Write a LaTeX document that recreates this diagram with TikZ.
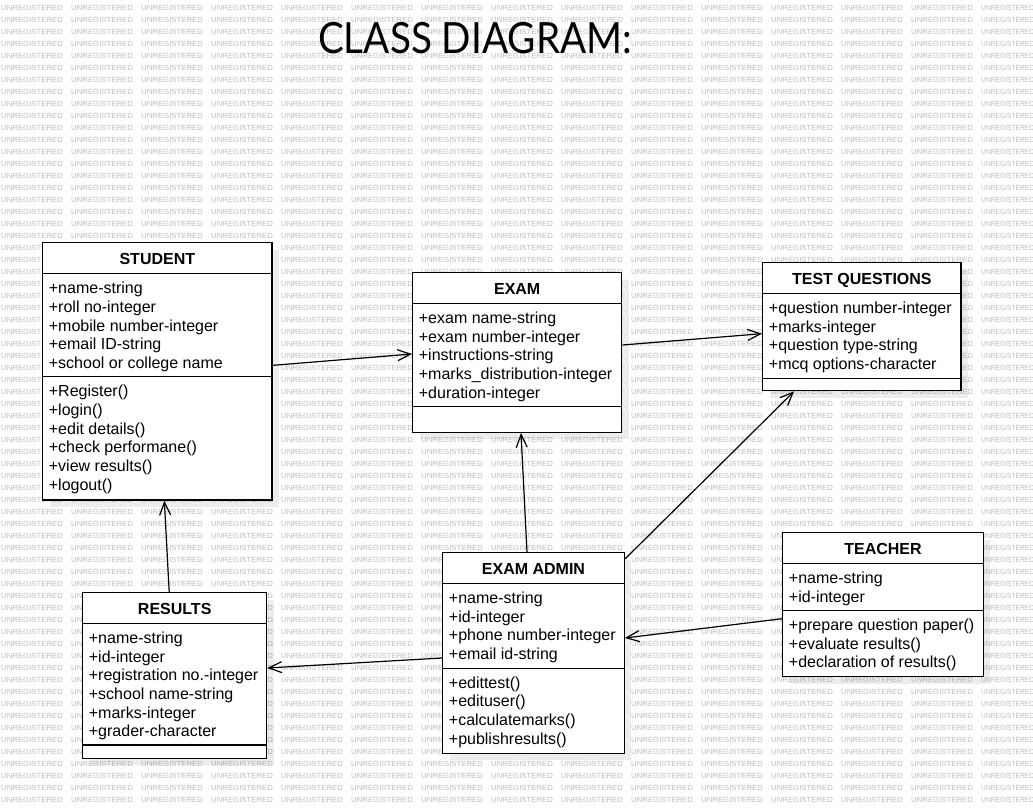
\documentclass[tikz,border=0pt]{standalone}
\usepackage{fontspec}
\setmainfont{Liberation Sans}
\newfontfamily\titlefont{Lato}
\usetikzlibrary{arrows.meta}
\tikzset{
  classbox/.style={draw=black, line width=1.3pt, fill=white, inner sep=0pt, outer sep=0.65pt},
  shadowbox/.style={fill=black, fill opacity=0.07},
  cname/.style={font=\fontsize{16}{19}\selectfont\bfseries, inner sep=0pt, anchor=base},
  member/.style={font=\fontsize{16}{19}\selectfont, inner sep=0pt, anchor=base west},
  divider/.style={line width=1.3pt},
  assoc/.style={line width=1.2pt, -{Straight Barb[length=13pt,width=11pt,line width=1.2pt]}},
  wmark/.style={font=\fontsize{7.4}{7.4}\selectfont, text=black!26, inner sep=0pt, anchor=west},
}
\newcommand\umlbox[7]{% name, x1, y1, x2, y2, separator y, title
  \pgfmathsetmacro\ubw{#4-#2}\pgfmathsetmacro\ubh{#5-#3}%
  \pgfmathsetmacro\ubcx{(#2+#4)/2}\pgfmathsetmacro\ubcy{(#3+#5)/2}%
  \fill[shadowbox] ({#2+7},{#3+7}) rectangle ({#4+7},{#5+7});
  \node[classbox, minimum width=\ubw pt, minimum height=\ubh pt] (#1) at (\ubcx,\ubcy) {};
  \draw[divider] (#2,{#3+31}) -- (#4,{#3+31});
  \draw[divider] (#2,#6) -- (#4,#6);
  \node[cname] (#1-t) at (\ubcx,{#3+21.3}) {#7};
}
\newcommand\umlmembers[4]{% name prefix, x1, first baseline, list
  \foreach \t [count=\i] in {#4} \node[member] (#1\i) at ({#2+6},{#3+(\i-1)*18.67}) {\t};
}
\newcommand\wmone{\makebox[70pt][l]{\scalebox{1.05}[1]{UNREGISTERED}}}
\newcommand\wmlast{\makebox[52pt][l]{\scalebox{0.9}[1]{UNREGISTERED}}}
\begin{document}
\begin{tikzpicture}[x=1pt, y=-1pt]
\useasboundingbox (0,0) rectangle (1033,808);
\fill[white] (0,0) rectangle (1033,808);
% watermark
\foreach \r in {0,...,66}
  \node[wmark] (wm\r) at (1,{8+12*\r}) {\wmone\wmone\wmone\wmone\wmone\wmone\wmone\wmone\wmone\wmone\wmone\wmone\wmone\wmone\wmlast};
% title
\node[font=\titlefont\fontsize{43}{43}\selectfont, inner sep=0pt, anchor=base] (title) at (475,54) {\scalebox{0.9}[1]{CLASS DIAGRAM:}};
% classes
\umlbox{student}{42.7}{242.7}{272}{500}{376.7}{STUDENT}
\umlmembers{student-a}{42.7}{293.7}{{+name-string},{+roll no-integer},{+mobile number-integer},{+email ID-string},{+school or college name}}
\umlmembers{student-m}{42.7}{396.7}{{+Register()},{+login()},{+edit details()},{+check performane()},{+view results()},{+logout()}}

\umlbox{exam}{412.7}{272.7}{621.7}{432.3}{406.7}{EXAM}
\umlmembers{exam-a}{412.7}{323.4}{{+exam name-string},{+exam number-integer},{+instructions-string},{+marks\_distribution-integer},{+duration-integer}}

\umlbox{tq}{762.7}{262.7}{961}{390.7}{378.3}{TEST QUESTIONS}
\umlmembers{tq-a}{762.7}{313.4}{{+question number-integer},{+marks-integer},{+question type-string},{+mcq options-character}}

\umlbox{results}{82.7}{592.7}{266.7}{758.3}{745}{RESULTS}
\umlmembers{results-a}{82.7}{643.4}{{+name-string},{+id-integer},{+registration no.-integer},{+school name-string},{+marks-integer},{+grader-character}}

\umlbox{admin}{442.7}{552.7}{624.3}{753.3}{668.3}{EXAM ADMIN}
\umlmembers{admin-a}{442.7}{603.4}{{+name-string},{+id-integer},{+phone number-integer},{+email id-string}}
\umlmembers{admin-m}{442.7}{688}{{+edittest()},{+edituser()},{+calculatemarks()},{+publishresults()}}

\umlbox{teacher}{782.7}{532.7}{983.3}{676.7}{610.7}{TEACHER}
\umlmembers{teacher-a}{782.7}{583.4}{{+name-string},{+id-integer}}
\umlmembers{teacher-m}{782.7}{630.4}{{+prepare question paper()},{+evaluate results()},{+declaration of results()}}

% connectors
\draw[assoc] ([yshift=6pt]student.east) -- ([yshift=-1.5pt]exam.west);
\draw[assoc] ([yshift=7.5pt]exam.east) -- ([yshift=-7pt]tq.west);
\draw[assoc] ([xshift=-6.5pt]admin.north) -- ([xshift=3.8pt]exam.south);
\draw[assoc] ([yshift=-7pt]admin.north east) -- ([xshift=32pt]tq.south west);
\draw[assoc] ([xshift=-5.5pt]results.north) -- ([xshift=7pt]student.south);
\draw[assoc] ([yshift=-5pt]admin.west) -- ([yshift=7.5pt]results.east);
\draw[assoc] ([yshift=-14pt]teacher.west) -- ([yshift=15pt]admin.east);
\end{tikzpicture}
\end{document}
